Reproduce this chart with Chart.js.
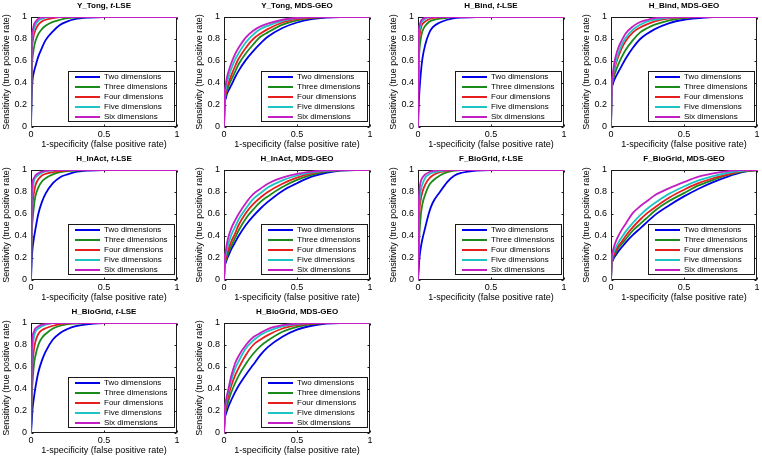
<!DOCTYPE html>
<html>
<head>
<meta charset="utf-8">
<script src="https://cdn.jsdelivr.net/npm/chart.js@4.4.1/dist/chart.umd.min.js"></script>
<style>
  html, body { margin: 0; padding: 0; background: #fff; overflow: hidden; }
  #wrap { position: relative; width: 762px; height: 460px; }
  #wrap canvas { position: absolute; }
</style>
</head>
<body>
<div id="wrap"></div>
<script>
// ================================
// Data: one shared FPR grid, TPR rows per panel (2..6 dimensions)
// ================================
const fpr = [0, 0.005, 0.01, 0.02, 0.03, 0.05, 0.075, 0.1, 0.15, 0.2, 0.25, 0.3, 0.4, 0.5, 0.6, 0.7, 0.8, 0.9, 1];

const seriesLabels = ['Two dimensions', 'Three dimensions', 'Four dimensions', 'Five dimensions', 'Six dimensions'];
const seriesColors = ['#0000e6', '#1a8a1a', '#e61e1e', '#1ec3c3', '#c31ec3'];

const xTicks = [0, 0.5, 1];
const yTicks = [0, 0.2, 0.4, 0.6, 0.8, 1];

const yTongTlse = [
    [0, .30, .42, .50, .55, .64, .72, .79, .87, .93, .96, .98, .995, 1, 1, 1, 1, 1, 1],
    [0, .50, .62, .72, .78, .845, .89, .92, .955, .975, .99, .995, 1, 1, 1, 1, 1, 1, 1],
    [0, .65, .76, .84, .88, .93, .96, .975, .99, 1, 1, 1, 1, 1, 1, 1, 1, 1, 1],
    [0, .75, .83, .89, .925, .965, .985, .995, 1, 1, 1, 1, 1, 1, 1, 1, 1, 1, 1],
    [0, .80, .87, .93, .955, .985, .995, 1, 1, 1, 1, 1, 1, 1, 1, 1, 1, 1, 1]
];
const yTongMds = [
    [0, .22, .25, .30, .33, .38, .45, .51, .61, .69, .76, .82, .90, .95, .98, .995, 1, 1, 1],
    [0, .25, .28, .33, .37, .43, .50, .57, .67, .75, .82, .86, .93, .97, .99, 1, 1, 1, 1],
    [0, .27, .30, .36, .40, .47, .55, .62, .72, .80, .85, .89, .95, .98, .995, 1, 1, 1, 1],
    [0, .29, .33, .40, .45, .53, .61, .67, .77, .84, .89, .92, .965, .99, 1, 1, 1, 1, 1],
    [0, .31, .37, .45, .50, .58, .66, .72, .815, .875, .915, .94, .975, .993, 1, 1, 1, 1, 1]
];
const hBindTlse = [
    [0, .20, .33, .50, .62, .75, .85, .905, .95, .975, .99, .995, 1, 1, 1, 1, 1, 1, 1],
    [0, .55, .70, .81, .87, .92, .955, .97, .985, .993, 1, 1, 1, 1, 1, 1, 1, 1, 1],
    [0, .70, .82, .90, .935, .96, .98, .99, .997, 1, 1, 1, 1, 1, 1, 1, 1, 1, 1],
    [0, .80, .88, .94, .96, .985, .995, 1, 1, 1, 1, 1, 1, 1, 1, 1, 1, 1, 1],
    [0, .85, .92, .965, .98, .995, 1, 1, 1, 1, 1, 1, 1, 1, 1, 1, 1, 1, 1]
];
const hBindMds = [
    [0, .35, .38, .42, .45, .50, .56, .62, .72, .80, .85, .89, .945, .975, .99, 1, 1, 1, 1],
    [0, .36, .40, .46, .50, .57, .64, .70, .79, .86, .90, .93, .97, .99, 1, 1, 1, 1, 1],
    [0, .37, .42, .50, .56, .64, .72, .78, .86, .905, .935, .96, .987, .997, 1, 1, 1, 1, 1],
    [0, .375, .44, .52, .58, .67, .75, .81, .885, .93, .96, .975, .995, 1, 1, 1, 1, 1, 1],
    [0, .38, .46, .56, .63, .72, .79, .85, .915, .955, .975, .99, 1, 1, 1, 1, 1, 1, 1]
];
const hInactTlse = [
    [0, .18, .28, .38, .46, .60, .71, .785, .88, .935, .96, .98, .995, 1, 1, 1, 1, 1, 1],
    [0, .42, .53, .67, .76, .84, .895, .925, .96, .98, .99, .995, 1, 1, 1, 1, 1, 1, 1],
    [0, .55, .68, .79, .86, .915, .95, .965, .98, .99, .997, 1, 1, 1, 1, 1, 1, 1, 1],
    [0, .65, .78, .90, .93, .955, .975, .987, .997, 1, 1, 1, 1, 1, 1, 1, 1, 1, 1],
    [0, .75, .89, .925, .95, .97, .985, .993, 1, 1, 1, 1, 1, 1, 1, 1, 1, 1, 1]
];
const hInactMds = [
    [0, .13, .15, .19, .22, .28, .34, .40, .50, .58, .65, .71, .81, .88, .94, .975, .995, 1, 1],
    [0, .15, .17, .21, .25, .31, .38, .45, .56, .64, .71, .76, .845, .91, .955, .985, .997, 1, 1],
    [0, .17, .19, .24, .28, .35, .42, .50, .61, .69, .75, .80, .875, .93, .97, .99, 1, 1, 1],
    [0, .19, .22, .28, .33, .41, .48, .55, .65, .735, .79, .84, .905, .95, .978, .993, 1, 1, 1],
    [0, .21, .25, .33, .39, .47, .54, .60, .70, .78, .83, .875, .93, .965, .985, .997, 1, 1, 1]
];
const fBioTlse = [
    [0, .10, .20, .30, .37, .48, .61, .70, .80, .89, .95, .975, .995, 1, 1, 1, 1, 1, 1],
    [0, .25, .42, .60, .69, .78, .86, .90, .95, .98, .995, 1, 1, 1, 1, 1, 1, 1, 1],
    [0, .45, .63, .74, .80, .87, .92, .95, .98, .995, 1, 1, 1, 1, 1, 1, 1, 1, 1],
    [0, .55, .72, .82, .87, .93, .96, .975, .99, 1, 1, 1, 1, 1, 1, 1, 1, 1, 1],
    [0, .68, .82, .90, .93, .96, .98, .99, 1, 1, 1, 1, 1, 1, 1, 1, 1, 1, 1]
];
const fBioMds = [
    [0, .15, .17, .20, .22, .26, .30, .34, .41, .47, .53, .59, .68, .76, .83, .89, .94, .98, 1],
    [0, .16, .18, .22, .24, .29, .33, .37, .45, .51, .57, .63, .72, .79, .86, .91, .955, .985, 1],
    [0, .17, .19, .23, .26, .31, .35, .40, .48, .55, .61, .66, .75, .82, .88, .925, .96, .99, 1],
    [0, .19, .22, .26, .29, .34, .39, .44, .52, .59, .65, .70, .785, .85, .905, .945, .975, .993, 1],
    [0, .21, .25, .30, .34, .40, .46, .51, .61, .67, .72, .77, .835, .89, .94, .97, .99, 1, 1]
];
const hBioTlse = [
    [0, .10, .21, .32, .41, .55, .66, .74, .85, .91, .945, .97, .99, 1, 1, 1, 1, 1, 1],
    [0, .32, .45, .62, .70, .80, .865, .90, .95, .975, .99, .995, 1, 1, 1, 1, 1, 1, 1],
    [0, .48, .62, .76, .83, .90, .935, .952, .975, .99, .997, 1, 1, 1, 1, 1, 1, 1, 1],
    [0, .60, .75, .87, .92, .95, .97, .985, 1, 1, 1, 1, 1, 1, 1, 1, 1, 1, 1],
    [0, .70, .86, .92, .95, .97, .985, .993, 1, 1, 1, 1, 1, 1, 1, 1, 1, 1, 1]
];
const hBioMds = [
    [0, .13, .16, .20, .24, .30, .37, .43, .53, .62, .71, .78, .875, .94, .975, .995, 1, 1, 1],
    [0, .15, .19, .24, .29, .37, .45, .52, .63, .72, .79, .84, .92, .965, .99, 1, 1, 1, 1],
    [0, .18, .22, .28, .34, .43, .52, .59, .71, .80, .85, .89, .95, .98, .995, 1, 1, 1, 1],
    [0, .20, .25, .32, .38, .48, .58, .65, .77, .84, .89, .925, .97, .99, 1, 1, 1, 1, 1],
    [0, .22, .27, .34, .40, .52, .63, .70, .80, .87, .91, .945, .98, .995, 1, 1, 1, 1, 1]
];

// panel order: left-to-right, top-to-bottom
const panels = [
    { name: 'Y_Tong', method: 't-LSE', tpr: yTongTlse },
    { name: 'Y_Tong', method: 'MDS-GEO', tpr: yTongMds },
    { name: 'H_Bind', method: 't-LSE', tpr: hBindTlse },
    { name: 'H_Bind', method: 'MDS-GEO', tpr: hBindMds },
    { name: 'H_InAct', method: 't-LSE', tpr: hInactTlse },
    { name: 'H_InAct', method: 'MDS-GEO', tpr: hInactMds },
    { name: 'F_BioGrid', method: 't-LSE', tpr: fBioTlse },
    { name: 'F_BioGrid', method: 'MDS-GEO', tpr: fBioMds },
    { name: 'H_BioGrid', method: 't-LSE', tpr: hBioTlse },
    { name: 'H_BioGrid', method: 'MDS-GEO', tpr: hBioMds }
];

// ================================
// Layout / style
// ================================
const FAMILY = "'Liberation Sans', Arial, Helvetica, sans-serif";
const INK = '#1a1a1a';
const colLeft = [0, 193, 387, 580];
const rowTop = [0, 153, 306];

// box + inward tick marks on all four sides (MATLAB style)
const axesFrame = {
    id: 'axesFrame',
    beforeDatasetsDraw(chart) {
        const { ctx, chartArea, scales } = chart;
        const x0 = Math.round(chartArea.left) + 0.5, x1 = Math.round(chartArea.right) - 0.5;
        const y0 = Math.round(chartArea.top) + 0.5, y1 = Math.round(chartArea.bottom) - 0.5;
        ctx.save();
        ctx.strokeStyle = INK;
        ctx.lineWidth = 1;
        ctx.strokeRect(x0, y0, x1 - x0, y1 - y0);
        ctx.beginPath();
        xTicks.forEach(v => {
            const px = Math.round(scales.x.getPixelForValue(v)) + 0.5;
            ctx.moveTo(px, y1); ctx.lineTo(px, y1 - 2);
            ctx.moveTo(px, y0); ctx.lineTo(px, y0 + 2);
        });
        yTicks.forEach(v => {
            const py = Math.round(scales.y.getPixelForValue(v)) + 0.5;
            ctx.moveTo(x0, py); ctx.lineTo(x0 + 2, py);
            ctx.moveTo(x1, py); ctx.lineTo(x1 - 2, py);
        });
        ctx.stroke();
        ctx.restore();
    }
};

// legend boxed in the lower-right corner of the plot area
const insideLegend = {
    id: 'insideLegend',
    afterDatasetsDraw(chart) {
        const { ctx, chartArea } = chart;
        const sets = chart.data.datasets;
        ctx.save();
        ctx.font = '8px ' + FAMILY;
        const maxW = Math.max(...sets.map(d => ctx.measureText(d.label).width));
        const w = Math.round(36 + maxW + 7), h = 51;
        const right = Math.round(chartArea.right) - 2, bottom = Math.round(chartArea.bottom) - 5;
        const left = right - w, top = bottom - h;
        ctx.fillStyle = '#fff';
        ctx.fillRect(left, top, w, h);
        ctx.strokeStyle = INK;
        ctx.lineWidth = 1;
        ctx.strokeRect(left + 0.5, top + 0.5, w - 1, h - 1);
        ctx.textBaseline = 'middle';
        sets.forEach((d, i) => {
            const y = top + 6 + i * 10;
            ctx.strokeStyle = d.borderColor;
            ctx.lineWidth = 2;
            ctx.beginPath();
            ctx.moveTo(left + 7, y); ctx.lineTo(left + 32, y);
            ctx.stroke();
            ctx.fillStyle = '#000';
            ctx.fillText(d.label, left + 36, y);
        });
        ctx.restore();
    }
};

// bold title, with the "t" of t-LSE in italics
const panelTitle = {
    id: 'panelTitle',
    afterDraw(chart, args, opts) {
        const { ctx, chartArea } = chart;
        const parts = opts.method === 't-LSE'
            ? [[opts.name + ', ', false], ['t', true], ['-LSE', false]]
            : [[opts.name + ', ' + opts.method, false]];
        ctx.save();
        ctx.fillStyle = '#000';
        ctx.textBaseline = 'middle';
        const fontOf = it => (it ? 'italic ' : '') + 'bold 8px ' + FAMILY;
        let total = 0;
        parts.forEach(p => { ctx.font = fontOf(p[1]); total += ctx.measureText(p[0]).width; });
        let x = (chartArea.left + chartArea.right) / 2 - total / 2;
        const y = chartArea.top - 11;
        parts.forEach(p => {
            ctx.font = fontOf(p[1]);
            ctx.fillText(p[0], x, y);
            x += ctx.measureText(p[0]).width;
        });
        ctx.restore();
    }
};

const tickFont = { family: FAMILY, size: 9 };
const wrap = document.getElementById('wrap');

panels.forEach((p, k) => {
    const canvas = document.createElement('canvas');
    canvas.width = 193;
    canvas.height = 153;
    canvas.style.width = '193px';
    canvas.style.height = '153px';
    canvas.style.left = colLeft[k % 4] + 'px';
    canvas.style.top = rowTop[Math.floor(k / 4)] + 'px';
    wrap.appendChild(canvas);

    const datasets = p.tpr.map((row, i) => ({
        label: seriesLabels[i],
        data: fpr.map((x, j) => ({ x: x, y: row[j] })),
        borderColor: seriesColors[i],
        borderWidth: 1.8,
        pointRadius: 0,
        fill: false,
        cubicInterpolationMode: 'monotone',
        order: seriesLabels.length - i   // six dimensions drawn on top
    }));

    new Chart(canvas.getContext('2d'), {
        type: 'line',
        data: { datasets: datasets },
        options: {
            responsive: false,
            animation: false,
            events: [],
            layout: { padding: { top: 17, right: 16, bottom: 0, left: 0 } },
            plugins: {
                legend: { display: false },
                tooltip: { enabled: false },
                title: { display: false },
                panelTitle: { name: p.name, method: p.method }
            },
            scales: {
                x: {
                    type: 'linear', min: 0, max: 1,
                    afterBuildTicks: s => { s.ticks = xTicks.map(v => ({ value: v })); },
                    afterFit: s => { s.height = 26; },
                    grid: { display: false, drawTicks: false },
                    border: { display: false },
                    ticks: {
                        font: tickFont, color: '#000', padding: 2, maxRotation: 0, autoSkip: false,
                        callback: v => String(v)
                    },
                    title: {
                        display: true, text: '1-specificity (false positive rate)',
                        font: tickFont, color: '#000', padding: { top: 0, bottom: 3.5 }
                    }
                },
                y: {
                    type: 'linear', min: 0, max: 1,
                    afterBuildTicks: s => { s.ticks = yTicks.map(v => ({ value: v })); },
                    afterFit: s => { s.width = 31; },
                    grid: { display: false, drawTicks: false },
                    border: { display: false },
                    ticks: {
                        font: tickFont, color: '#000', padding: 4, autoSkip: false,
                        callback: v => String(v)
                    },
                    title: {
                        display: true, text: 'Sensitivity (true positive rate)',
                        font: tickFont, color: '#000', padding: { top: 1, bottom: 0 }
                    }
                }
            }
        },
        plugins: [axesFrame, insideLegend, panelTitle]
    });
});
</script>
</body>
</html>
